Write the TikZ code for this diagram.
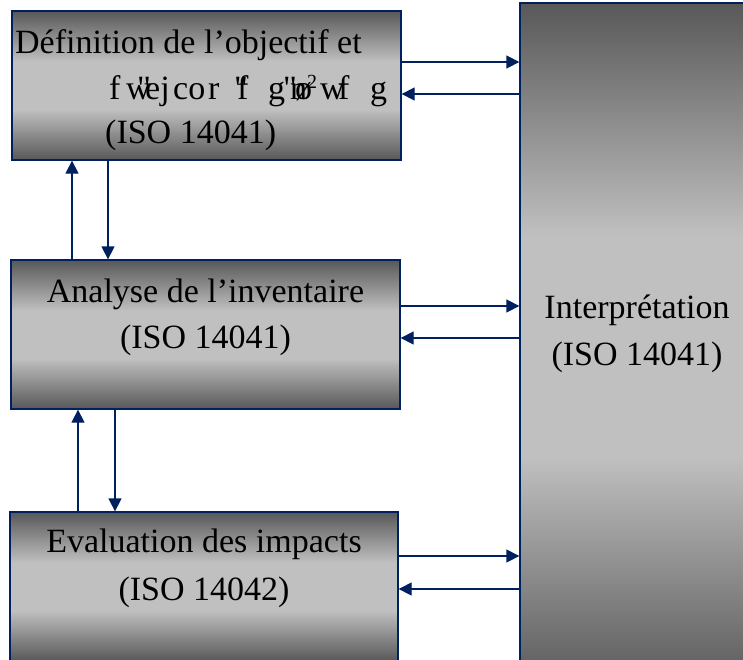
\documentclass[tikz,border=0pt]{standalone}
\usepackage{fontspec}
\setmainfont{Liberation Serif}
\newfontfamily\rawserif{Liberation Serif}
\usetikzlibrary{arrows.meta}
\definecolor{navy}{RGB}{0,32,96}
\definecolor{boxdark}{RGB}{88,88,88}
\definecolor{boxlight}{RGB}{192,192,192}
% dark edges, light band across the middle
\pgfdeclareverticalshading{greyband}{100bp}{color(0bp)=(boxdark); color(25bp)=(boxdark); color(42bp)=(boxlight); color(58bp)=(boxlight); color(75bp)=(boxdark); color(100bp)=(boxdark)}
\tikzset{
  stage/.style={rectangle, draw=navy, line width=1.3pt, shading=greyband, inner sep=0pt},
  txt/.style={inner sep=0pt, anchor=base, font=\fontsize{34}{40}\selectfont},
  glyph/.style={inner sep=0pt, anchor=base west, font=\fontsize{34}{40}\rawserif},
  link/.style={draw=navy, line width=1.3pt, -{Triangle[length=13pt,width=13pt]}}
}
\begin{document}
\begin{tikzpicture}[x=1pt, y=-1pt]
\useasboundingbox (0,0) rectangle (743,659);
\clip (0,0) rectangle (743,659);

% phases
\node[stage, minimum width=389pt, minimum height=149pt] (def) at (206.5,85.5) {};
\node[stage, minimum width=389pt, minimum height=149pt] (inv) at (205.5,334.5) {};
\node[stage, minimum width=388pt, minimum height=149pt] (imp) at (204,586.5) {};
\node[stage, minimum width=234pt, minimum height=687pt] (interp) at (637,346.5) {};

% labels
\node[txt, anchor=base west] (def1) at (15,53) {Définition de l’objectif et};
% second line of the first phase, set glyph by glyph
\foreach \gx/\gt [count=\gi] in {109/f, 126/w, 137/", 145/ej, 173/co, 208/r, 234/", 237/f,
    268/g, 283/", 290/n, 295/ø, 307/{\raisebox{.3em}{\fontsize{20}{20}\selectfont 2}},
    320/w, 338/f, 370/g}
  \node[glyph] (l2g\gi) at (\gx,99) {\gt};
\node[txt, anchor=base west] (def3) at (105,143) {(ISO 14041)};
\node[txt] (inv1) at (205.5,302) {Analyse de l’inventaire};
\node[txt] (inv2) at (205.5,348) {(ISO 14041)};
\node[txt] (imp1) at (204,552) {Evaluation des impacts};
\node[txt] (imp2) at (204,600) {(ISO 14042)};
\node[txt] (int1) at (637,318) {Interprétation};
\node[txt] (int2) at (637,365) {(ISO 14041)};

% connector levels
\coordinate (h1) at (0,62);
\coordinate (h2) at (0,94);
\coordinate (h3) at (0,306);
\coordinate (h4) at (0,338);
\coordinate (h5) at (0,556);
\coordinate (h6) at (0,589);
\coordinate (v1) at (72,0);
\coordinate (v2) at (108,0);
\coordinate (v3) at (78,0);
\coordinate (v4) at (115,0);

% exchanges with interpretation
\draw[link] (def.east |- h1) -- (interp.west |- h1);
\draw[link] (interp.west |- h2) -- (def.east |- h2);
\draw[link] (inv.east |- h3) -- (interp.west |- h3);
\draw[link] (interp.west |- h4) -- (inv.east |- h4);
\draw[link] (imp.east |- h5) -- (interp.west |- h5);
\draw[link] (interp.west |- h6) -- (imp.east |- h6);

% exchanges between phases
\draw[link] (inv.north -| v1) -- (def.south -| v1);
\draw[link] (def.south -| v2) -- (inv.north -| v2);
\draw[link] (imp.north -| v3) -- (inv.south -| v3);
\draw[link] (inv.south -| v4) -- (imp.north -| v4);
\end{tikzpicture}
\end{document}
